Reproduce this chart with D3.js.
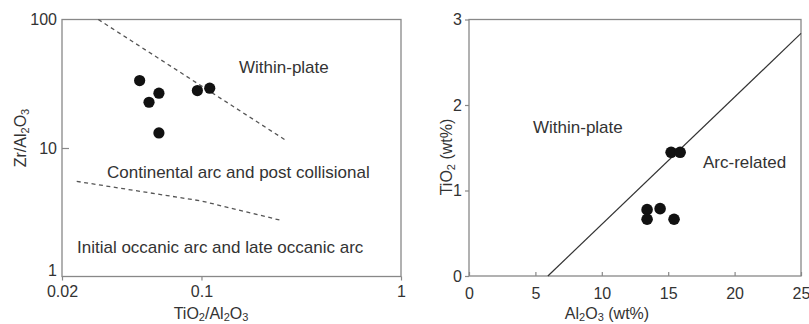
<!DOCTYPE html>
<html>
<head>
<meta charset="utf-8">
<script src="https://cdn.jsdelivr.net/npm/d3@7"></script>
<style>
  body { margin: 0; background: #fff; }
  svg { display: block; font-family: "Liberation Sans", Arial, sans-serif; }
  .frame { fill: none; stroke: #888; stroke-width: 1.3; }
  .axis path { display: none; }
  .axis line { stroke: #888; stroke-width: 1.2; }
  .axis text { font-size: 16px; fill: #333; font-family: "Liberation Sans", Arial, sans-serif; }
  .lbl { font-size: 17px; fill: #333; }
  .title { font-size: 16px; fill: #333; }
</style>
</head>
<body>
<svg id="chart" width="809" height="324"></svg>
<script>
// left diagram: TiO2/Al2O3 vs Zr/Al2O3 (log-log)
const leftXTicks = [0.02, 0.1, 1];
const leftYTicks = [1, 10, 100];
const leftTi = [0.049, 0.0546, 0.0612, 0.0612, 0.0954, 0.110];
const leftZr = [33.5, 22.7, 26.7, 13.1, 28.0, 29.2];
const upperBoundary = [[0.0304, 100], [0.264, 11.5]];
const lowerBoundary = [[0.0237, 5.5], [0.1, 3.87], [0.254, 2.72]];

// right diagram: Al2O3 vs TiO2 (wt%)
const rightXTicks = [0, 5, 10, 15, 20, 25];
const rightYTicks = [0, 1, 2, 3];
const rightAl = [15.22, 15.9, 13.41, 13.41, 14.39, 15.44];
const rightTi = [1.447, 1.447, 0.776, 0.664, 0.788, 0.664];
const arcBoundary = [[5.94, 0], [25, 2.837]];

const svg = d3.select('#chart');

// text with subscripts: parts = [[text, isSub], ...]
const richText = (sel, parts) => {
  parts.forEach(([t, isSub], i) => {
    const prevSub = i > 0 && parts[i - 1][1];
    const ts = sel.append('tspan').text(t);
    if (isSub) ts.attr('font-size', 11);
    if (isSub && !prevSub) ts.attr('dy', 2.5);
    if (!isSub && prevSub) ts.attr('dy', -2.5);
  });
};

// ---------- left chart ----------
{
  const x = d3.scaleLog().domain([0.02, 1]).range([62, 401]);
  const y = d3.scaleLog().domain([1, 100]).range([276.5, 19.5]);

  svg.append('g')
    .attr('class', 'axis')
    .attr('transform', `translate(0,${y(1)})`)
    .call(d3.axisBottom(x).tickValues(leftXTicks).tickFormat(d => d).tickSize(4).tickPadding(5));

  const ya = svg.append('g')
    .attr('class', 'axis')
    .attr('transform', `translate(${x(0.02)},0)`)
    .call(d3.axisRight(y).tickValues(leftYTicks).tickFormat(d => d).tickSize(7));
  ya.selectAll('text').attr('x', -5).attr('text-anchor', 'end');
  ya.selectAll('.tick').filter(d => d === 1).select('text').attr('dy', '-0.05em');
  ya.selectAll('.tick').filter(d => d === 1 || d === 100).select('line').remove();

  svg.append('rect').attr('class', 'frame')
    .attr('x', x(0.02)).attr('y', y(100))
    .attr('width', x(1) - x(0.02)).attr('height', y(1) - y(100));

  const line = d3.line().x(d => x(d[0])).y(d => y(d[1]));
  [upperBoundary, lowerBoundary].forEach(b => {
    svg.append('path')
      .datum(b)
      .attr('fill', 'none')
      .attr('stroke', '#555')
      .attr('stroke-width', 1.3)
      .attr('stroke-dasharray', '4,3.5')
      .attr('d', line);
  });

  svg.append('g').selectAll('circle')
    .data(leftTi.map((v, i) => [v, leftZr[i]]))
    .enter().append('circle')
    .attr('cx', d => x(d[0]))
    .attr('cy', d => y(d[1]))
    .attr('r', 5.6)
    .attr('fill', '#111');

  svg.append('text').attr('class', 'lbl').attr('x', 239).attr('y', 72.5).text('Within-plate');
  svg.append('text').attr('class', 'lbl').attr('x', 107).attr('y', 178).text('Continental arc and post collisional');
  svg.append('text').attr('class', 'lbl').attr('x', 77).attr('y', 252.5).text('Initial occanic arc and late occanic arc');

  const xt = svg.append('text').attr('class', 'title').attr('x', 211).attr('y', 318.5).attr('text-anchor', 'middle');
  richText(xt, [['TiO', 0], ['2', 1], ['/Al', 0], ['2', 1], ['O', 0], ['3', 1]]);
  const yt = svg.append('text').attr('class', 'title').attr('text-anchor', 'middle')
    .attr('transform', 'translate(26,138) rotate(-90)');
  richText(yt, [['Zr/Al', 0], ['2', 1], ['O', 0], ['3', 1]]);
}

// ---------- right chart ----------
{
  const x = d3.scaleLinear().domain([0, 25]).range([469, 801]);
  const y = d3.scaleLinear().domain([0, 3]).range([276, 19.5]);

  svg.append('g')
    .attr('class', 'axis')
    .attr('transform', `translate(0,${y(0)})`)
    .call(d3.axisTop(x).tickValues(rightXTicks).tickFormat(d3.format('d')).tickSize(4))
    .selectAll('text').attr('y', 12).attr('dy', '0.71em');

  svg.append('g')
    .attr('class', 'axis')
    .attr('transform', `translate(${x(0)},0)`)
    .call(d3.axisLeft(y).tickValues(rightYTicks).tickFormat(d3.format('d')).tickSize(4).tickPadding(3));

  svg.append('rect').attr('class', 'frame')
    .attr('x', x(0)).attr('y', y(3))
    .attr('width', x(25) - x(0)).attr('height', y(0) - y(3));

  svg.append('path')
    .datum(arcBoundary)
    .attr('fill', 'none')
    .attr('stroke', '#333')
    .attr('stroke-width', 1.2)
    .attr('d', d3.line().x(d => x(d[0])).y(d => y(d[1])));

  svg.append('g').selectAll('circle')
    .data(rightAl.map((v, i) => [v, rightTi[i]]))
    .enter().append('circle')
    .attr('cx', d => x(d[0]))
    .attr('cy', d => y(d[1]))
    .attr('r', 5.8)
    .attr('fill', '#111');

  svg.append('text').attr('class', 'lbl').attr('x', 533).attr('y', 132.5).text('Within-plate');
  svg.append('text').attr('class', 'lbl').attr('x', 703).attr('y', 168).text('Arc-related');

  const xt = svg.append('text').attr('class', 'title').attr('x', 607).attr('y', 318.5).attr('text-anchor', 'middle');
  richText(xt, [['Al', 0], ['2', 1], ['O', 0], ['3', 1], [' (wt%)', 0]]);
  const yt = svg.append('text').attr('class', 'title').attr('text-anchor', 'middle')
    .attr('transform', 'translate(452,157) rotate(-90)');
  richText(yt, [['TiO', 0], ['2', 1], [' (wt%)', 0]]);
}
</script>
</body>
</html>
